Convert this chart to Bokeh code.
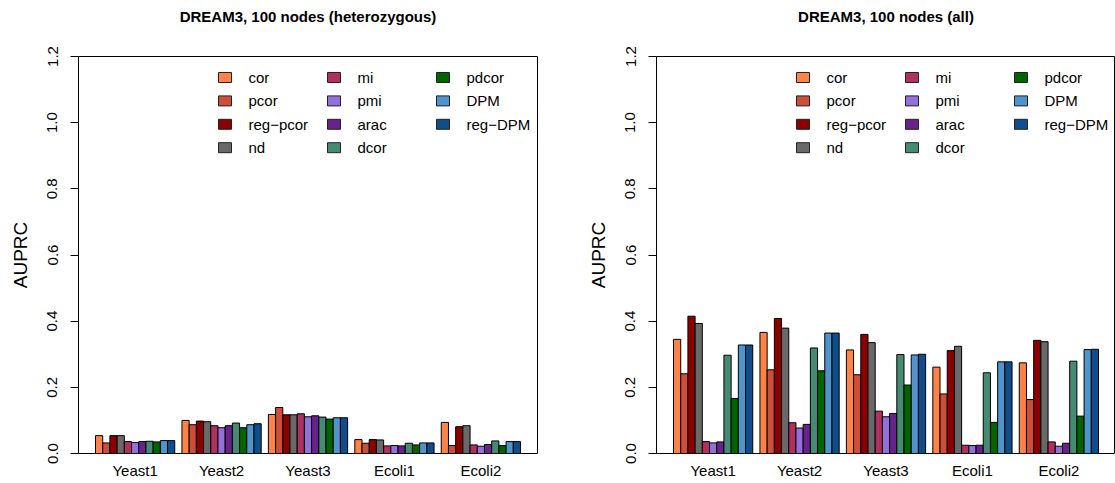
from bokeh.plotting import figure
from bokeh.models import Range1d, FixedTicker, ColumnDataSource, Title
from bokeh.layouts import row
from bokeh.embed import file_html
from bokeh.resources import INLINE
from bokeh.core.properties import value

# ---------------- data ----------------
networks = ["Yeast1", "Yeast2", "Yeast3", "Ecoli1", "Ecoli2"]
methods = ["cor", "pcor", "reg\u2212pcor", "nd", "mi", "pmi", "arac",
           "dcor", "pdcor", "DPM", "reg\u2212DPM"]
method_colors = ["#FF8247", "#CD4F39", "#8B0000", "#696969", "#B03060",
                 "#9370DB", "#68228B", "#458B74", "#006400", "#4F94CD",
                 "#104E8B"]

# heterozygous panel (values per network, in method order)
het_yeast1 = [0.054, 0.032, 0.054, 0.054, 0.036, 0.033, 0.036, 0.037, 0.035, 0.039, 0.039]
het_yeast2 = [0.100, 0.087, 0.098, 0.096, 0.084, 0.078, 0.084, 0.092, 0.078, 0.087, 0.090]
het_yeast3 = [0.118, 0.139, 0.117, 0.117, 0.120, 0.111, 0.114, 0.110, 0.104, 0.108, 0.108]
het_ecoli1 = [0.042, 0.031, 0.042, 0.041, 0.023, 0.024, 0.023, 0.031, 0.026, 0.032, 0.032]
het_ecoli2 = [0.094, 0.024, 0.081, 0.084, 0.026, 0.022, 0.027, 0.038, 0.024, 0.036, 0.036]

# all panel
all_yeast1 = [0.345, 0.241, 0.415, 0.393, 0.036, 0.032, 0.035, 0.297, 0.166, 0.328, 0.328]
all_yeast2 = [0.366, 0.253, 0.408, 0.379, 0.093, 0.077, 0.088, 0.319, 0.250, 0.364, 0.364]
all_yeast3 = [0.313, 0.238, 0.360, 0.335, 0.128, 0.111, 0.121, 0.299, 0.207, 0.298, 0.300]
all_ecoli1 = [0.261, 0.180, 0.311, 0.324, 0.025, 0.024, 0.025, 0.244, 0.094, 0.277, 0.277]
all_ecoli2 = [0.274, 0.163, 0.342, 0.338, 0.035, 0.022, 0.031, 0.279, 0.113, 0.314, 0.315]

y_ticks = [0.0, 0.2, 0.4, 0.6, 0.8, 1.0, 1.2]
y_tick_labels = ["0.0", "0.2", "0.4", "0.6", "0.8", "1.0", "1.2"]

titles = ["DREAM3, 100 nodes (heterozygous)", "DREAM3, 100 nodes (all)"]
het_values = [het_yeast1, het_yeast2, het_yeast3, het_ecoli1, het_ecoli2]
all_values = [all_yeast1, all_yeast2, all_yeast3, all_ecoli1, all_ecoli2]

# ---------------- layout constants ----------------
FONT = "Liberation Sans"
FRAME_W = 459
FRAME_H = 397
TOP_B = 56
BOT_B = 30
N_M = len(methods)
GROUP = N_M + 1                      # bars + one gap unit
X_MIN = 1.0
X_MAX = GROUP * len(networks)
EXT = 0.04 * (X_MAX - X_MIN)
X0 = X_MIN - EXT
X1 = X_MAX + EXT
PPU = FRAME_W / (X1 - X0)             # pixels per x unit
Y_TOP = 1.2
PPY = FRAME_H / Y_TOP


def make_panel(title, values, left_border, right_border):
    xs, tops, cols = [], [], []
    for g, vals in enumerate(values):
        for k, v in enumerate(vals):
            xs.append(1 + GROUP * g + k + 0.5)
            tops.append(v)
            cols.append(method_colors[k])
    src = ColumnDataSource(dict(x=xs, top=tops, color=cols))

    p = figure(width=left_border + FRAME_W + right_border,
               height=TOP_B + FRAME_H + BOT_B,
               x_range=Range1d(X0, X1), y_range=Range1d(0, Y_TOP),
               output_backend="svg", toolbar_location=None,
               min_border_left=left_border, min_border_right=right_border,
               min_border_top=TOP_B, min_border_bottom=BOT_B)
    p.title.text = title
    p.title.align = "center"
    p.title.text_font = FONT
    p.title.text_font_size = "15px"
    p.title.text_font_style = "bold"
    p.title.text_color = "black"
    p.title.standoff = 0
    # spacer (placed closest to the frame) pushes the real title upward
    p.add_layout(Title(text=" ", text_font=FONT, text_font_size="15px",
                       standoff=13), "above")

    p.vbar(x="x", top="top", bottom=0, width=1.0, fill_color="color",
           line_color="black", line_width=1, source=src)

    # legend drawn manually (3 columns, 4 rows)
    lx, ly, tx, ty, lc, lt = [], [], [], [], [], []
    for i, m in enumerate(methods):
        c, r = i // 4, i % 4
        box_left_px = 140 + 109 * c
        row_px = 21 + 23.4 * r
        lx.append(X0 + (box_left_px + 6.5) / PPU)
        ly.append(Y_TOP - row_px / PPY)
        tx.append(X0 + (box_left_px + 30) / PPU)
        ty.append(Y_TOP - row_px / PPY)
        lc.append(method_colors[i])
        lt.append(m)
    p.rect(x=lx, y=ly, width=13, height=10, width_units="screen",
           height_units="screen", fill_color=lc, line_color="#222222",
           line_width=1)
    p.text(x=tx, y=ty, text=lt, text_font=value(FONT), text_font_size="15px",
           text_baseline="middle", text_align="left", text_color="black")

    # axes
    p.xgrid.visible = False
    p.ygrid.visible = False
    p.outline_line_color = "black"
    p.outline_line_width = 1
    p.outline_line_alpha = 1

    xa = p.xaxis[0]
    xa.ticker = FixedTicker(ticks=[1 + GROUP * g + N_M / 2 for g in range(len(networks))])
    xa.major_label_overrides = {1 + GROUP * g + N_M / 2: n for g, n in enumerate(networks)}
    xa.axis_line_color = None
    xa.major_tick_line_color = None
    xa.minor_tick_line_color = None
    xa.major_tick_out = 0
    xa.major_tick_in = 0
    xa.major_label_text_font = FONT
    xa.major_label_text_font_size = "15px"
    xa.major_label_text_color = "black"
    xa.major_label_standoff = 8

    ya = p.yaxis[0]
    ya.ticker = FixedTicker(ticks=y_ticks)
    ya.major_label_overrides = {t: l for t, l in zip(y_ticks, y_tick_labels)}
    ya.major_label_orientation = "vertical"
    ya.major_label_text_font = FONT
    ya.major_label_text_font_size = "15px"
    ya.major_label_text_color = "black"
    ya.major_label_standoff = 13
    ya.major_tick_out = 8
    ya.major_tick_in = 0
    ya.major_tick_line_color = "black"
    ya.minor_tick_line_color = None
    ya.axis_line_color = "black"
    ya.axis_label = "AUPRC"
    ya.axis_label_text_font = FONT
    ya.axis_label_text_font_size = "19px"
    ya.axis_label_text_font_style = "normal"
    ya.axis_label_text_color = "black"
    ya.axis_label_standoff = 14
    return p


p1 = make_panel(titles[0], het_values, 78, 40)
p2 = make_panel(titles[1], all_values, 79, 0)

layout = row(p1, p2)
open("out.html", "w").write(file_html(layout, INLINE))
